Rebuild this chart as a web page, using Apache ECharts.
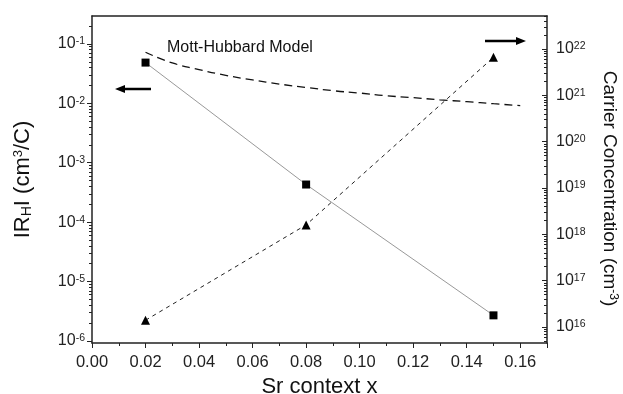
<!DOCTYPE html>
<html>
<head>
<meta charset="utf-8">
<script src="https://cdn.jsdelivr.net/npm/echarts@6/dist/echarts.min.js"></script>
<style>
  html, body { margin: 0; padding: 0; background: #fff; }
  #main { width: 623px; height: 394px; }
</style>
</head>
<body>
<div id="main"></div>
<script>
var chart = echarts.init(document.getElementById('main'));

// Sr content x
var xValues = [0.02, 0.08, 0.15];
// |R_H| (cm3/C), left axis
var hallValues = [0.0485, 0.00043, 0.0000027];
// carrier concentration (cm-3), right axis
var carrierValues = [1.4e16, 1.6e18, 6.6e21];
// Mott-Hubbard model curve, right axis
var mottX = [0.02, 0.03, 0.04, 0.05, 0.06, 0.07, 0.08, 0.09, 0.10, 0.11, 0.12, 0.13, 0.14, 0.15, 0.16];
var mottValues = [8.5e21, 5.0e21, 3.6e21, 2.7e21, 2.15e21, 1.75e21, 1.48e21, 1.26e21, 1.12e21,
                  9.8e20, 8.9e20, 8.0e20, 7.3e20, 6.6e20, 6.0e20];
// decade tick exponents
var leftDecades = [-6, -5, -4, -3, -2, -1];
var rightDecades = [16, 17, 18, 19, 20, 21, 22];

var leftMin = -6.034, leftMax = -0.53;
var rightMin = 15.655, rightMax = 22.712;

function minorTicks(lo, hi) {
  var out = [];
  for (var n = Math.floor(lo) - 1; n <= Math.ceil(hi); n++) {
    for (var k = 2; k <= 9; k++) {
      var v = n + Math.log10(k);
      if (v > lo && v < hi) out.push(v);
    }
  }
  return out;
}

function pairs(xs, ys) {
  return xs.map(function (x, i) { return [x, Math.log10(ys[i])]; });
}

var axisColor = '#222';
var labelRich = {
  sup: { fontSize: 10.5, verticalAlign: 'top', lineHeight: 12, color: '#222', fontFamily: 'Liberation Sans' }
};
function powLabel(v) {
  return '10{sup|' + Math.round(v) + '}';
}

var option = {
  animation: false,
  backgroundColor: '#fff',
  grid: { left: 92, right: 76, top: 16, bottom: 51, containLabel: false, outerBoundsMode: 'none' },
  xAxis: [{
    type: 'value',
    position: 'bottom',
    min: 0, max: 0.17, interval: 0.02,
    name: 'Sr context x',
    nameLocation: 'middle',
    nameGap: 27,
    nameTextStyle: { fontSize: 22, color: '#111', fontFamily: 'Liberation Sans' },
    axisLine: { lineStyle: { color: axisColor, width: 1.5 } },
    axisTick: { length: 5, lineStyle: { color: axisColor } },
    minorTick: { show: true, splitNumber: 2, length: 3, lineStyle: { color: axisColor } },
    axisLabel: {
      margin: 11, fontSize: 16.5, color: '#222', fontFamily: 'Liberation Sans',
      showMaxLabel: false,
      formatter: function (v) { return v.toFixed(2); }
    },
    splitLine: { show: false }
  }, {
    type: 'value',
    position: 'top',
    min: 0, max: 0.17,
    axisLine: { show: true, lineStyle: { color: axisColor, width: 1.5 } },
    axisTick: { show: false },
    axisLabel: { show: false },
    splitLine: { show: false }
  }],
  yAxis: [{
    type: 'value',
    position: 'left',
    min: leftMin, max: leftMax,
    name: 'IR{sub|H}I (cm{sup|3}/C)',
    nameLocation: 'middle',
    nameGap: 58,
    nameTextStyle: {
      fontSize: 22, color: '#111', fontFamily: 'Liberation Sans',
      rich: {
        sub: { fontSize: 14, verticalAlign: 'bottom', lineHeight: 22, color: '#111' },
        sup: { fontSize: 13, verticalAlign: 'top', lineHeight: 14, color: '#111' }
      }
    },
    axisLine: { show: true, lineStyle: { color: axisColor, width: 1.5 } },
    axisTick: { length: 5, customValues: leftDecades, lineStyle: { color: axisColor } },
    axisLabel: {
      customValues: leftDecades, margin: 7, fontSize: 16, color: '#222',
      fontFamily: 'Liberation Sans', rich: labelRich, formatter: powLabel
    },
    splitLine: { show: false }
  }, {
    type: 'value',
    position: 'left',
    min: leftMin, max: leftMax,
    axisLine: { show: false },
    axisTick: { length: 3, customValues: minorTicks(leftMin, leftMax), lineStyle: { color: axisColor } },
    axisLabel: { show: false },
    splitLine: { show: false }
  }, {
    type: 'value',
    position: 'right',
    min: rightMin, max: rightMax,
    name: 'Carrier Concentration (cm{sup|-3})',
    nameLocation: 'middle',
    nameGap: 53,
    nameRotate: -90,
    nameTextStyle: {
      fontSize: 19, color: '#111', fontFamily: 'Liberation Sans',
      padding: [0, 0, 0, 18],
      rich: { sup: { fontSize: 12, verticalAlign: 'top', lineHeight: 12, color: '#111' } }
    },
    axisLine: { show: true, lineStyle: { color: axisColor, width: 1.5 } },
    axisTick: { inside: true, length: 5, customValues: rightDecades, lineStyle: { color: axisColor } },
    axisLabel: {
      customValues: rightDecades, margin: 9, fontSize: 16, color: '#222',
      fontFamily: 'Liberation Sans', rich: labelRich, formatter: powLabel
    },
    splitLine: { show: false }
  }, {
    type: 'value',
    position: 'right',
    min: rightMin, max: rightMax,
    axisLine: { show: false },
    axisTick: { inside: true, length: 3, customValues: minorTicks(rightMin, rightMax), lineStyle: { color: axisColor } },
    axisLabel: { show: false },
    splitLine: { show: false }
  }],
  series: [{
    name: 'RH',
    type: 'line',
    yAxisIndex: 0,
    data: pairs(xValues, hallValues),
    symbol: 'rect',
    symbolSize: 8,
    itemStyle: { color: '#000' },
    lineStyle: { color: '#999', width: 1 },
    z: 3
  }, {
    name: 'carrier',
    type: 'line',
    yAxisIndex: 2,
    data: pairs(xValues, carrierValues),
    symbol: 'triangle',
    symbolSize: 9,
    itemStyle: { color: '#000' },
    lineStyle: { color: '#222', width: 1, type: [4, 4] },
    z: 3
  }, {
    name: 'Mott-Hubbard',
    type: 'line',
    yAxisIndex: 2,
    data: pairs(mottX, mottValues),
    symbol: 'none',
    smooth: true,
    lineStyle: { color: '#111', width: 1.3, type: [8, 5] },
    z: 2
  }],
  graphic: [{
    type: 'text',
    left: 167, top: 40,
    style: { text: 'Mott-Hubbard Model', fontSize: 16, fill: '#111', fontFamily: 'Liberation Sans' }
  }, {
    type: 'line',
    shape: { x1: 151, y1: 89, x2: 122, y2: 89 },
    style: { stroke: '#000', lineWidth: 2.5 }
  }, {
    type: 'polygon',
    shape: { points: [[115, 89], [125, 85], [125, 93]] },
    style: { fill: '#000' }
  }, {
    type: 'line',
    shape: { x1: 485, y1: 41, x2: 518, y2: 41 },
    style: { stroke: '#000', lineWidth: 2.5 }
  }, {
    type: 'polygon',
    shape: { points: [[526, 41], [516, 37], [516, 45]] },
    style: { fill: '#000' }
  }]
};

chart.setOption(option);
</script>
</body>
</html>
